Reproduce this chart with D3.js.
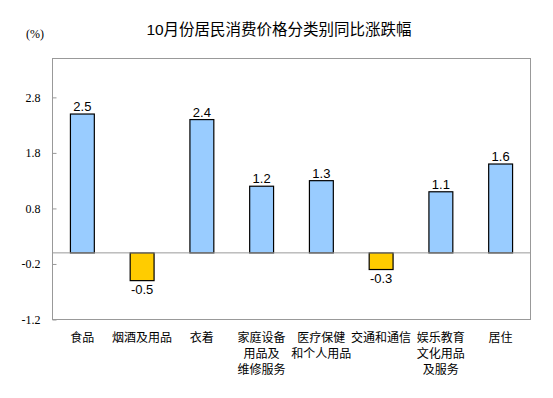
<!DOCTYPE html>
<html><head><meta charset="utf-8">
<script src="https://cdn.jsdelivr.net/npm/d3@7"></script>
<style>body{margin:0;background:#fff}</style>
</head><body><svg id="c" width="553" height="398"></svg>
<script>
const categories = [["食品"],["烟酒及用品"],["衣着"],["家庭设备","用品及","维修服务"],["医疗保健","和个人用品"],["交通和通信"],["娱乐教育","文化用品","及服务"],["居住"]];
const values = [2.5,-0.5,2.4,1.2,1.3,-0.3,1.1,1.6];
const tickValues = [-1.2,-0.2,0.8,1.8,2.8];
const title = "10月份居民消费价格分类别同比涨跌幅";
const unit = "(%)";

const fmt = d3.formatLocale({decimal:".",thousands:",",grouping:[3],currency:["",""],minus:"-"}).format(".1f");
const svg = d3.select("#c");
const L=52.5,R=530.5,T=58.5,B=319.5;
const x = d3.scaleBand().domain(d3.range(values.length)).range([L,R]).paddingInner(0.6).paddingOuter(0.3);
const y = d3.scaleLinear().domain([-1.2,3.5]).range([B,T]);

svg.append("text").attr("x",279).attr("y",35).attr("text-anchor","middle")
  .attr("font-family","'Liberation Sans',Arial,'Noto Sans CJK SC',sans-serif").attr("font-size",15.5).attr("fill","#000").text(title);
svg.append("text").attr("x",35).attr("y",38).attr("text-anchor","middle")
  .attr("font-family","'Liberation Serif','Times New Roman',serif").attr("font-size",12).attr("fill","#000").text(unit);

// frame
svg.append("rect").attr("x",L).attr("y",T).attr("width",R-L).attr("height",B-T)
  .attr("fill","none").attr("stroke","#999").attr("stroke-width",1);

// y axis
const ax = d3.axisRight(y).tickValues(tickValues).tickSize(4).tickFormat(fmt);
const g = svg.append("g").attr("transform",`translate(${L},0)`).call(ax);
g.select(".domain").remove();
g.selectAll(".tick line").attr("stroke","#999");
g.selectAll(".tick text").attr("x",-12).attr("text-anchor","end").attr("fill","#000")
  .attr("font-family","'Liberation Serif','Times New Roman',serif").attr("font-size",12);

// bars
svg.selectAll("rect.bar").data(values).join("rect").attr("class","bar")
  .attr("x",(d,i)=>x(i)).attr("width",x.bandwidth())
  .attr("y",d=>y(Math.max(0,d))).attr("height",d=>Math.abs(y(d)-y(0)))
  .attr("fill",d=>d>=0?"#99CCFF":"#FFCC00").attr("stroke","#000").attr("stroke-width",1.2);

// zero line
svg.append("line").attr("x1",L).attr("x2",R).attr("y1",y(0)).attr("y2",y(0)).attr("stroke","#999").attr("stroke-width",1);

// value labels
svg.selectAll("text.val").data(values).join("text").attr("class","val")
  .attr("x",(d,i)=>x(i)+x.bandwidth()/2)
  .attr("y",d=>d>=0?y(d)-3:y(d)+13)
  .attr("text-anchor","middle").attr("font-family","'Liberation Sans',Arial,sans-serif").attr("font-size",13).attr("fill","#000")
  .text(d=>fmt(d));

// category labels
const cg = svg.selectAll("text.cat").data(categories).join("text").attr("class","cat")
  .attr("text-anchor","middle").attr("font-family","'Noto Sans CJK SC',sans-serif").attr("font-size",12).attr("fill","#000");
cg.selectAll("tspan").data((d,i)=>d.map(s=>({s,i}))).join("tspan")
  .attr("x",d=>x(d.i)+x.bandwidth()/2).attr("y",(d,j)=>342+j*16).text(d=>d.s);
</script></body></html>
